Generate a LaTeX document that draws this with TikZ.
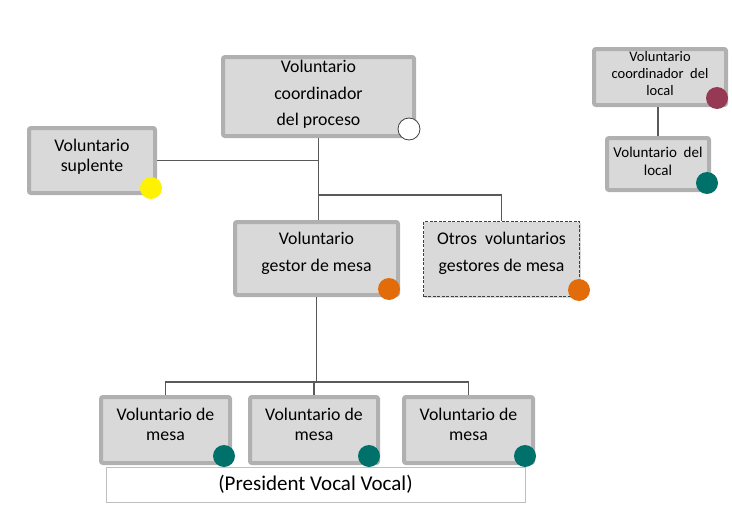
\documentclass[tikz,border=0pt]{standalone}
\usepackage{fontspec}
\setmainfont{Carlito}
\usetikzlibrary{shadows}
\definecolor{boxfill}{HTML}{D9D9D9}
\definecolor{boxedge}{HTML}{B0B0B0}
\definecolor{linkgray}{HTML}{595959}
\definecolor{teal}{HTML}{00706B}
\definecolor{mesaorange}{HTML}{E36C0A}
\definecolor{maroon}{HTML}{953954}
\begin{document}
\begin{tikzpicture}[x=1pt, y=-1pt,
    box/.style={draw=boxedge, line width=4pt, fill=boxfill, rounded corners=2pt,
        drop shadow={opacity=0.3, shadow xshift=1.5pt, shadow yshift=-1.5pt}},
    dashbox/.style={draw=black!75, line width=0.9pt, dash pattern=on 3pt off 1.5pt, fill=boxfill,
        drop shadow={opacity=0.3, shadow xshift=1.5pt, shadow yshift=-1.5pt}},
    txt/.style={align=center, font=\fontsize{17.8}{20}\selectfont},
    dot/.style={circle, minimum size=22pt, inner sep=0pt},
    link/.style={draw=linkgray, line width=1.8pt}]
    \useasboundingbox (0,0) rectangle (732,514);

    % boxes
    \node[box, minimum width=191pt, minimum height=79pt] (proc) at (318.5,96.5) {};
    \node[box, minimum width=126pt, minimum height=65pt] (supl) at (92,160.5) {};
    \node[box, minimum width=163pt, minimum height=73pt] (gestor) at (316.5,258.5) {};
    \node[dashbox, minimum width=156pt, minimum height=75pt] (otros) at (501.5,259) {};
    \node[box, minimum width=132pt, minimum height=56pt] (clocal) at (660,77) {};
    \node[box, minimum width=102pt, minimum height=52pt] (vlocal) at (658,164) {};
    \node[draw=black!25, line width=0.8pt, fill=white, minimum width=419pt, minimum height=35pt] (pres) at (315.5,484.5) {};
    \node[box, minimum width=129pt, minimum height=66pt] (mesa1) at (165.5,430) {};
    \node[box, minimum width=128pt, minimum height=66pt] (mesa2) at (314,430) {};
    \node[box, minimum width=129pt, minimum height=66pt] (mesa3) at (468.5,430) {};

    % texts
    \node[txt, font=\fontsize{17.8}{26.5}\selectfont] (proct) at ([yshift=2pt]proc.center) {Voluntario\\coordinador\\del proceso};
    \node[txt] (suplt) at ([yshift=4pt]supl.center) {Voluntario\\suplente};
    \node[txt, font=\fontsize{17.8}{27}\selectfont] (gestort) at ([yshift=5pt]gestor.center) {Voluntario\\gestor de mesa};
    \node[txt, font=\fontsize{17.8}{27}\selectfont] (otrost) at ([yshift=5.5pt]otros.center) {Otros\ \ voluntarios\\gestores de mesa};
    \node[txt, font=\fontsize{14.5}{17}\selectfont] (clocalt) at ([yshift=3pt]clocal.center) {Voluntario\\coordinador\ \ del\\local};
    \node[txt, font=\fontsize{15}{18}\selectfont] (vlocalt) at ([yshift=3pt]vlocal.center) {Voluntario\ \ del\\local};
    \node[txt] (mesa1t) at ([yshift=5.5pt]mesa1.center) {Voluntario de\\mesa};
    \node[txt] (mesa2t) at ([yshift=5.5pt]mesa2.center) {Voluntario de\\mesa};
    \node[txt] (mesa3t) at ([yshift=5.5pt]mesa3.center) {Voluntario de\\mesa};
    \node[font=\fontsize{21}{24}\selectfont] (prest) at (pres.center) {(President Vocal Vocal)};

    % connectors
    \coordinate (split) at (318.5,195);
    \coordinate (bus) at (316.5,382);
    \draw[link] (proc.south) -- (proc.south |- gestor.north);
    \draw[link] (supl.east) -- (proc.south |- supl.east);
    \draw[link] (split) -| (otros.north);
    \draw[link] (clocal.south -| vlocal.north) -- (vlocal.north);
    \draw[link] (gestor.south) -- (bus);
    \draw[link] (mesa1.north) |- (bus) -| (mesa3.north);
    \draw[link] (bus) -- (bus -| mesa2.north) -- (mesa2.north);

    % dots
    \node[dot, draw=black!75, line width=0.8pt, fill=white] (dproc) at (409,129) {};
    \node[dot, fill=yellow] (dsupl) at (151,188) {};
    \node[dot, fill=mesaorange] (dgestor) at (389,289) {};
    \node[dot, fill=mesaorange] (dotros) at (579,290) {};
    \node[dot, fill=maroon] (dclocal) at (717,98) {};
    \node[dot, fill=teal] (dvlocal) at (707,183) {};
    \node[dot, fill=teal] (dmesa1) at (224,456) {};
    \node[dot, fill=teal] (dmesa2) at (369,456) {};
    \node[dot, fill=teal] (dmesa3) at (525,456) {};
\end{tikzpicture}
\end{document}
